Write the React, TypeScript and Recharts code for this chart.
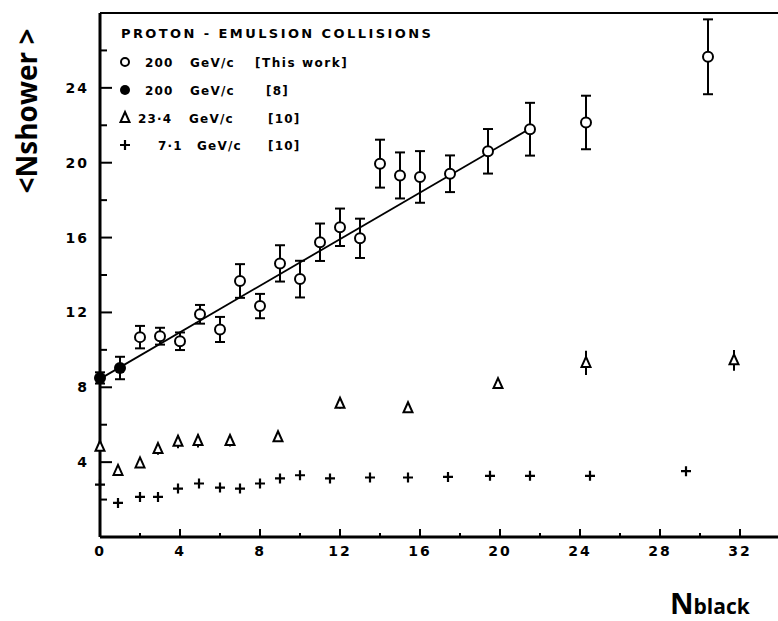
import { ScatterChart, Scatter, XAxis, YAxis, ErrorBar, ReferenceLine } from "recharts";

// 200 GeV/c, this work (open circles)
const openX = [2, 3, 4, 5, 6, 7, 8, 9, 10, 11, 12, 13, 14, 15, 16, 17.5, 19.4, 21.5, 24.3, 30.4];
const openY = [10.68, 10.73, 10.46, 11.9, 11.09, 13.68, 12.34, 14.62, 13.78, 15.75, 16.55, 15.96, 19.95, 19.32, 19.24, 19.41, 20.61, 21.79, 22.15, 25.66];
const openErr = [0.6, 0.45, 0.47, 0.5, 0.67, 0.9, 0.65, 0.97, 0.98, 1.0, 1.0, 1.05, 1.28, 1.23, 1.38, 0.98, 1.19, 1.41, 1.43, 2.0];

// 200 GeV/c [8] (filled circles)
const filledX = [0, 1];
const filledY = [8.5, 9.03];
const filledErr = [0.3, 0.6];

// 23.4 GeV/c [10] (triangles)
const triX = [0, 0.9, 2, 2.9, 3.9, 4.9, 6.5, 8.9, 12, 15.4, 19.9, 24.3, 31.7];
const triY = [4.82, 3.53, 3.93, 4.7, 5.09, 5.13, 5.13, 5.33, 7.12, 6.88, 8.17, 9.3, 9.44];
const triErr = [0.15, 0.15, 0.2, 0.3, 0.35, 0.35, 0.3, 0.2, 0.25, 0.25, 0.2, 0.65, 0.55];

// 7.1 GeV/c [10] (crosses)
const crossX = [0, 0.9, 2, 2.9, 3.9, 4.95, 6, 7, 8, 9, 10, 11.5, 13.5, 15.4, 17.4, 19.5, 21.5, 24.5, 29.3];
const crossY = [2.8, 1.82, 2.14, 2.14, 2.59, 2.86, 2.64, 2.59, 2.86, 3.13, 3.3, 3.13, 3.18, 3.18, 3.21, 3.27, 3.27, 3.27, 3.52];

// straight line fit
const fitX = [0, 21.7];
const fitY = [8.45, 21.95];

const xTicks = [0, 2, 4, 6, 8, 10, 12, 14, 16, 18, 20, 22, 24, 26, 28, 30, 32];
const yTicks = [0, 2, 4, 6, 8, 10, 12, 14, 16, 18, 20, 22, 24, 26];

const openData = openX.map((x, i) => ({ x, y: openY[i], err: openErr[i] }));
const filledData = filledX.map((x, i) => ({ x, y: filledY[i], err: filledErr[i] }));
const triData = triX.map((x, i) => ({ x, y: triY[i], err: triErr[i] }));
const crossData = crossX.map((x, i) => ({ x, y: crossY[i] }));
const fitData = fitX.map((x, i) => ({ x, y: fitY[i] }));

const tickFont = { fontFamily: "DejaVu Sans", fontWeight: 700, fontSize: 14, fill: "#000" };

const OpenCircle = (p: any) => (
  <circle cx={p.cx} cy={p.cy} r={p.r ?? 5} fill="#fff" stroke="#000" strokeWidth={2} />
);
const FilledCircle = (p: any) => <circle cx={p.cx} cy={p.cy} r={p.r ?? 6} fill="#000" />;
const Triangle = (p: any) => (
  <path
    d={`M${p.cx},${p.cy - 6} L${p.cx + 4.5},${p.cy + 4} L${p.cx - 4.5},${p.cy + 4} Z`}
    fill="#fff"
    stroke="#000"
    strokeWidth={2}
  />
);
const Cross = (p: any) => (
  <path
    d={`M${p.cx - 5},${p.cy} H${p.cx + 5} M${p.cx},${p.cy - 5} V${p.cy + 5}`}
    stroke="#000"
    strokeWidth={2.2}
  />
);

const XTick = (p: any) => {
  const v = p.payload.value;
  const major = v % 4 === 0;
  return (
    <g>
      <line x1={p.x} x2={p.x} y1={p.y} y2={p.y - (major ? 8 : 4)} stroke="#000" strokeWidth={2} />
      {major && (
        <text x={p.x} y={p.y + 19} textAnchor="middle" letterSpacing={2} {...tickFont}>
          {v}
        </text>
      )}
    </g>
  );
};

const YTick = (p: any) => {
  const v = p.payload.value;
  const major = v % 4 === 0;
  return (
    <g>
      <line x1={p.x} x2={p.x + (major ? 12 : 7)} y1={p.y} y2={p.y} stroke="#000" strokeWidth={2} />
      {major && v !== 0 && (
        <text x={p.x - 11} y={p.y + 5} textAnchor="end" letterSpacing={2} {...tickFont}>
          {v}
        </text>
      )}
    </g>
  );
};

const legendFont = { fontFamily: "DejaVu Sans", fontWeight: 700, fontSize: 12, fill: "#000", letterSpacing: 1.2 };

export default function App() {
  return (
    <div style={{ position: "absolute", left: 0, top: 0, width: 778, height: 621, background: "#fff" }}>
      <ScatterChart width={778} height={621} margin={{ top: 13, right: 0, left: 0, bottom: 0 }}>
        <XAxis
          type="number"
          dataKey="x"
          domain={[0, 33.9]}
          ticks={xTicks}
          height={84}
          tickSize={0}
          tickMargin={0}
          tickLine={false}
          axisLine={{ stroke: "#000", strokeWidth: 3 }}
          tick={<XTick />}
          interval={0}
        />
        <YAxis
          type="number"
          dataKey="y"
          domain={[0, 28]}
          ticks={yTicks}
          width={100}
          tickSize={0}
          tickMargin={0}
          tickLine={false}
          axisLine={{ stroke: "#000", strokeWidth: 3 }}
          tick={<YTick />}
          interval={0}
        />
        <ReferenceLine y={28} stroke="#000" strokeWidth={2} />
        <Scatter data={fitData} line={{ stroke: "#000", strokeWidth: 1.8 }} shape={() => <g />} isAnimationActive={false} />
        <Scatter data={crossData} shape={Cross} isAnimationActive={false} />
        <Scatter data={triData} shape={Triangle} isAnimationActive={false}>
          <ErrorBar dataKey="err" direction="y" width={0} stroke="#000" strokeWidth={2} />
        </Scatter>
        <Scatter data={openData} shape={OpenCircle} isAnimationActive={false}>
          <ErrorBar dataKey="err" direction="y" width={5} stroke="#000" strokeWidth={2} />
        </Scatter>
        <Scatter data={filledData} shape={FilledCircle} isAnimationActive={false}>
          <ErrorBar dataKey="err" direction="y" width={5} stroke="#000" strokeWidth={2} />
        </Scatter>
      </ScatterChart>

      <svg width={778} height={621} style={{ position: "absolute", left: 0, top: 0, pointerEvents: "none" }}>
        <text x={121} y={38} textLength={311} lengthAdjust="spacing" {...legendFont} fontSize={13}>
          PROTON - EMULSION COLLISIONS
        </text>

        <OpenCircle cx={125} cy={62} r={4} />
        <text x={145} y={67} {...legendFont}>200</text>
        <text x={190} y={67} {...legendFont}>GeV/c</text>
        <text x={255} y={67} textLength={93} lengthAdjust="spacing" {...legendFont}>[This work]</text>

        <FilledCircle cx={125} cy={90} r={5} />
        <text x={145} y={95} {...legendFont}>200</text>
        <text x={190} y={95} {...legendFont}>GeV/c</text>
        <text x={266} y={95} {...legendFont}>[8]</text>

        <Triangle cx={125} cy={118} />
        <text x={138} y={123} {...legendFont}>23·4</text>
        <text x={189} y={123} {...legendFont}>GeV/c</text>
        <text x={268} y={123} {...legendFont}>[10]</text>

        <Cross cx={125} cy={145} />
        <text x={158} y={150} {...legendFont}>7·1</text>
        <text x={197} y={150} {...legendFont}>GeV/c</text>
        <text x={268} y={150} {...legendFont}>[10]</text>

        <text
          x={37}
          y={111}
          transform="rotate(-90 37 111)"
          textAnchor="middle"
          fontFamily="Open Sans"
          fontWeight={700}
          fontSize={28}
          fill="#000"
        >
          {"<Nshower >"}
        </text>

        <text x={670} y={614} fontFamily="Open Sans" fontWeight={700} fill="#000">
          <tspan fontSize={29}>N</tspan>
          <tspan fontSize={21}>black</tspan>
        </text>
      </svg>
    </div>
  );
}
